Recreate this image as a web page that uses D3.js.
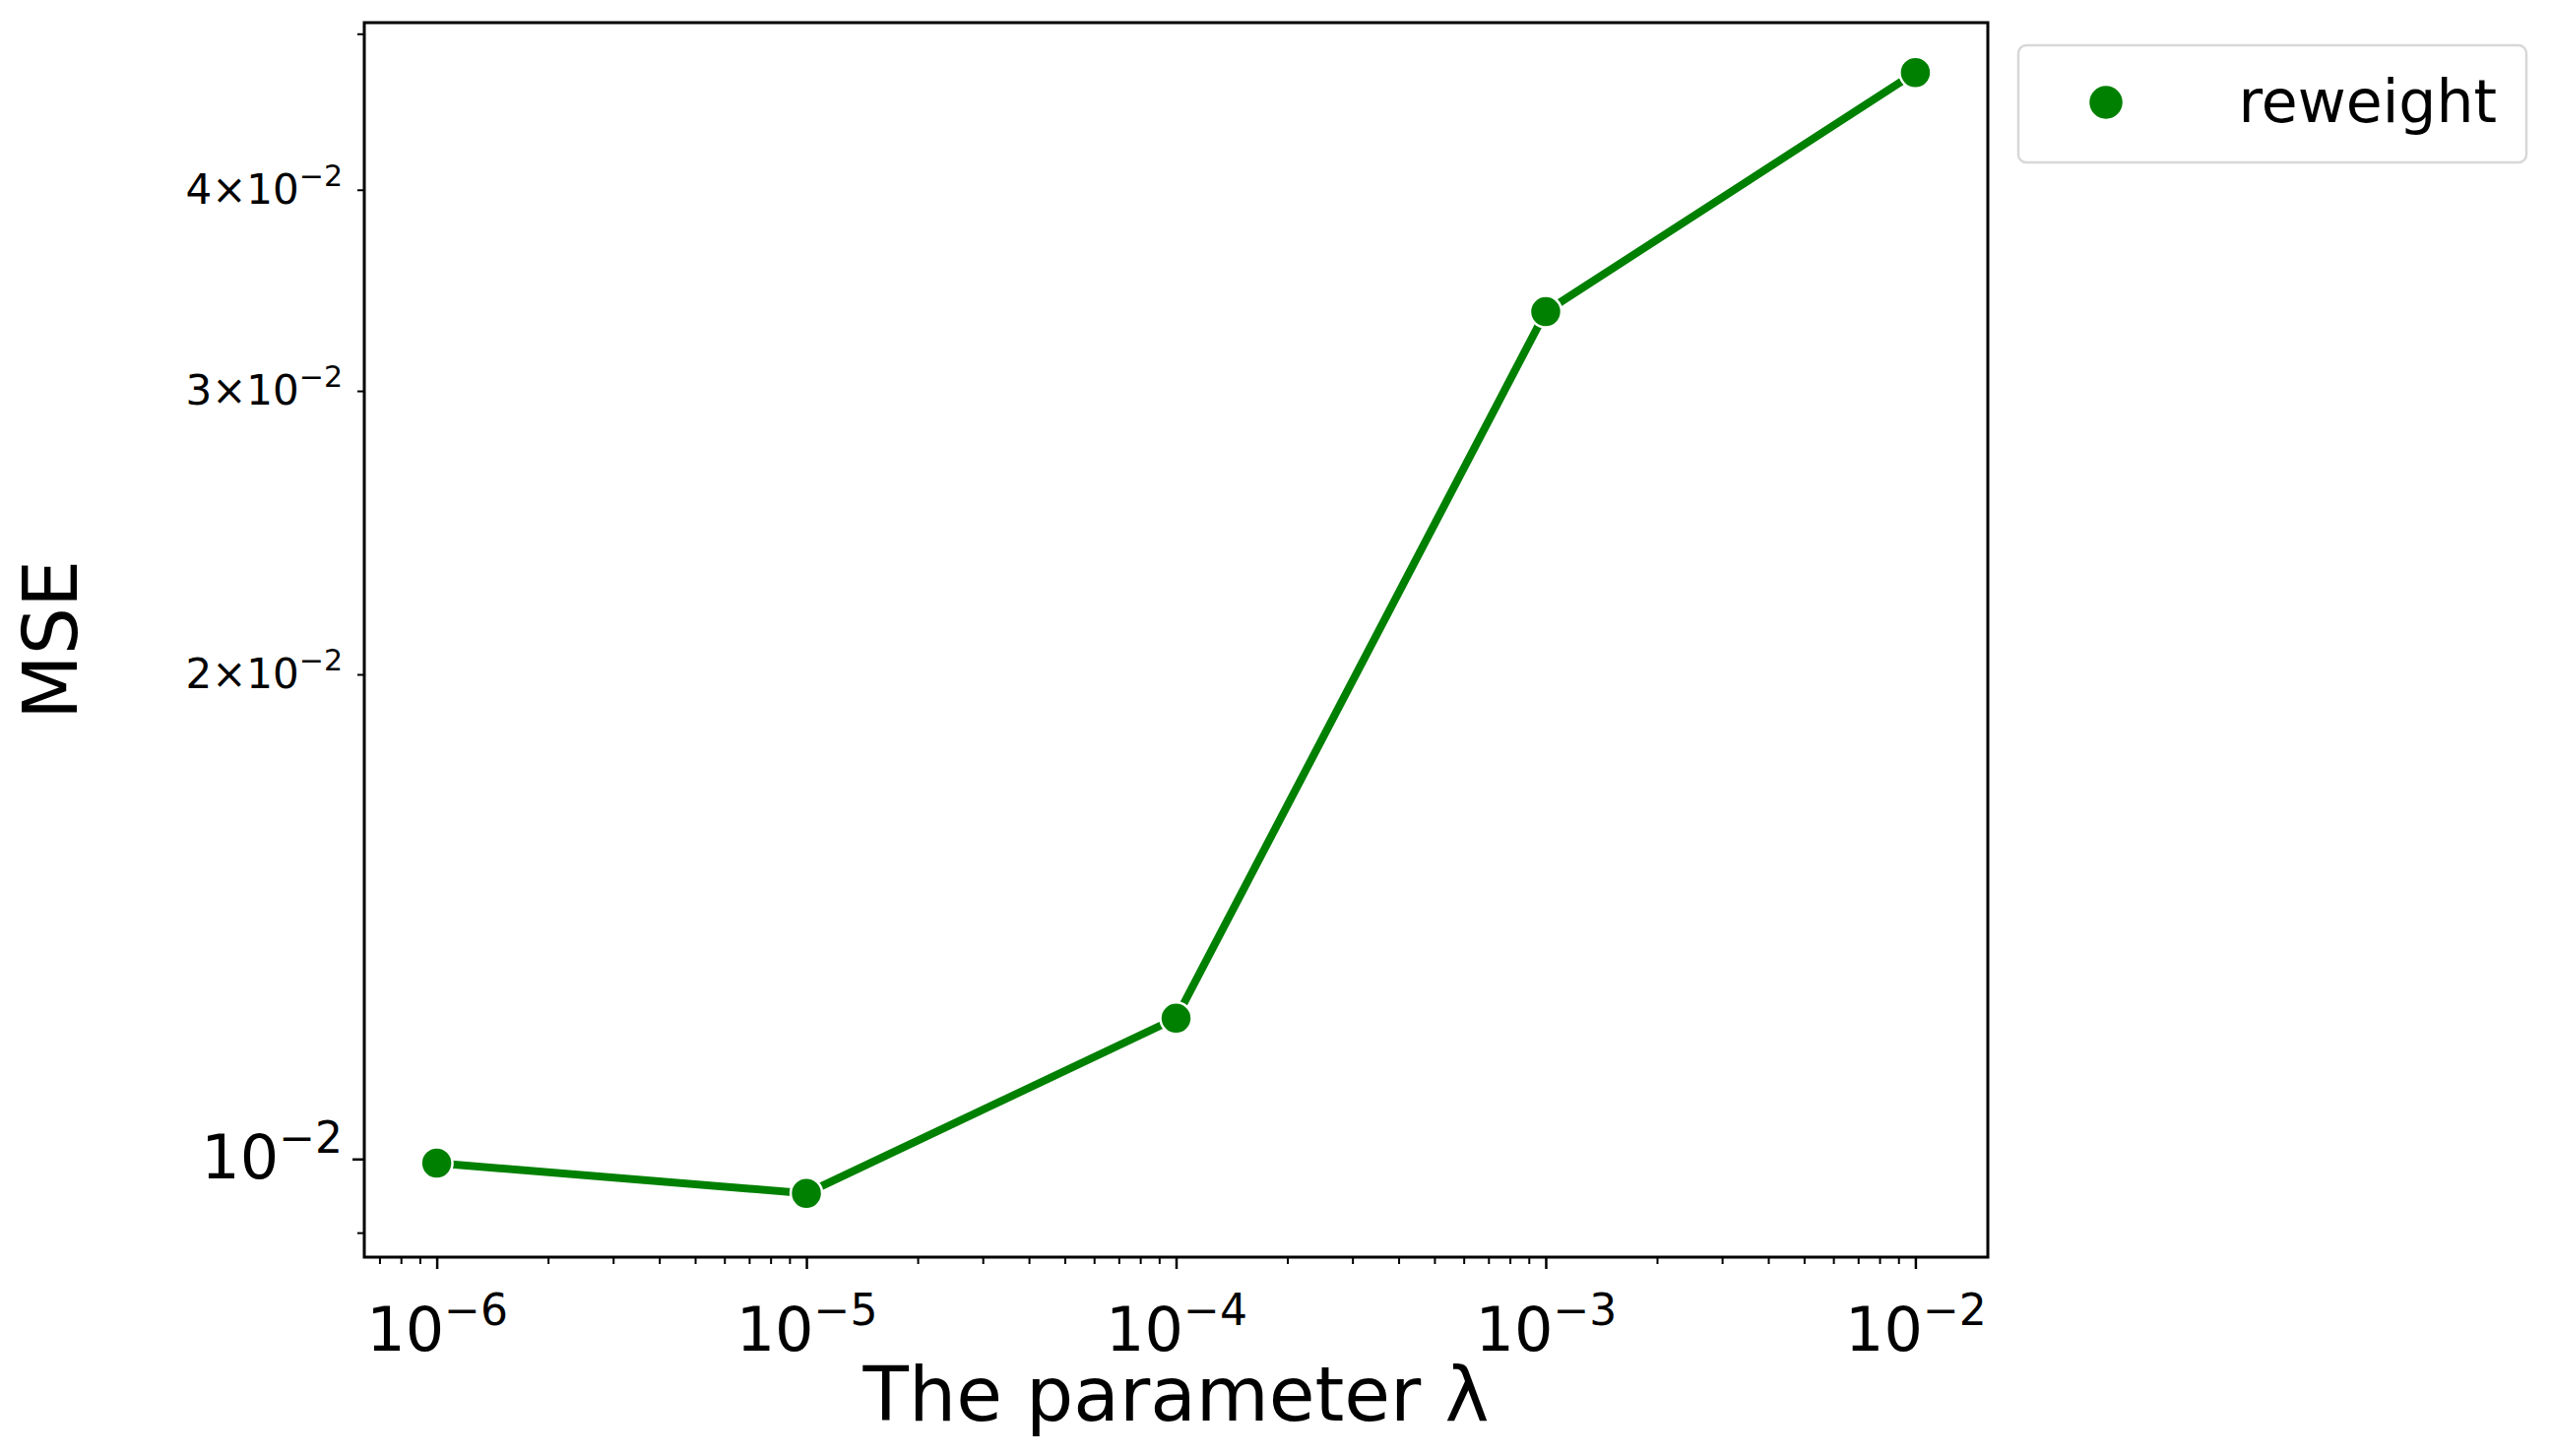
<!DOCTYPE html>
<html><head><meta charset="utf-8">
<script src="https://cdn.jsdelivr.net/npm/d3@7"></script>
<style>body{margin:0;background:#fff}text{font-family:"DejaVu Sans",sans-serif}</style>
</head><body><div id="container"></div>
<script>
const width = 2591, height = 1479;
const lambdas = [1e-6, 1e-5, 1e-4, 1e-3, 1e-2];
const mse = [0.00994, 0.00952, 0.01223, 0.0336, 0.0473];
const xMajor = [-6, -5, -4, -3, -2];
const yLabelled = [[1, 0.01], [2, 0.02], [3, 0.03], [4, 0.04]];
const yMinorOnly = [0.009, 0.05];

const pLeft = 370, pRight = 2019, pTop = 23, pBottom = 1277;
const svg = d3.select("#container").append("svg")
  .attr("width", width).attr("height", height);

const x = d3.scaleLog().domain([Math.pow(10, -6.196), Math.pow(10, -1.804)]).range([pLeft, pRight]);
const y = d3.scaleLog().domain([0.00869, 0.0508]).range([pBottom, pTop]);

// x axis
const xMinor = [];
for (let e = -7; e <= -2; e++) for (let k = 2; k <= 9; k++) {
  const v = k * Math.pow(10, e);
  if (v >= x.domain()[0] && v <= x.domain()[1]) xMinor.push(v);
}
svg.append("g").attr("transform", `translate(0,${pBottom})`)
  .call(d3.axisBottom(x).tickValues(xMinor).tickSize(7).tickFormat(""))
  .call(g => g.select(".domain").remove())
  .selectAll("line").attr("stroke-width", 2);
const xg = svg.append("g").attr("transform", `translate(0,${pBottom})`)
  .call(d3.axisBottom(x).tickValues(xMajor.map(e => Math.pow(10, e))).tickSize(12).tickFormat(""));
xg.select(".domain").remove();
xg.selectAll("line").attr("stroke-width", 2.5);
xg.selectAll(".tick").append("text").attr("fill", "#000").attr("y", 95)
  .attr("text-anchor", "middle").attr("font-size", 62)
  .each(function (d) {
    const t = d3.select(this);
    t.append("tspan").text("10");
    t.append("tspan").attr("dy", -26).attr("font-size", 44).text("\u2212" + Math.round(-Math.log10(d)));
  });

// y axis
const yg = svg.append("g").attr("transform", `translate(${pLeft},0)`)
  .call(d3.axisLeft(y).tickValues(yMinorOnly.concat(yLabelled.map(d => d[1]))).tickSize(7).tickFormat(""));
yg.select(".domain").remove();
yg.selectAll("line").attr("stroke-width", 2);
yg.selectAll(".tick").filter(d => d === 0.01).select("line").attr("x2", -12).attr("stroke-width", 2.5);
yLabelled.forEach(([m, v]) => {
  const t = svg.append("text").attr("x", pLeft - 22).attr("y", y(v) + (m === 1 ? 20 : 14))
    .attr("text-anchor", "end").attr("font-size", m === 1 ? 62 : 42);
  if (m === 1) {
    t.append("tspan").text("10");
    t.append("tspan").attr("dy", -26).attr("font-size", 44).text("\u22122");
  } else {
    t.append("tspan").text(m + "\u00d710");
    t.append("tspan").attr("dy", -18).attr("font-size", 30).text("\u22122");
  }
});

// frame
svg.append("rect").attr("x", pLeft).attr("y", pTop).attr("width", pRight - pLeft).attr("height", pBottom - pTop)
  .attr("fill", "none").attr("stroke", "#000").attr("stroke-width", 3);

// line + markers
const pts = lambdas.map((l, i) => ({ l, v: mse[i] }));
svg.append("path").datum(pts)
  .attr("d", d3.line().x(d => x(d.l)).y(d => y(d.v)))
  .attr("fill", "none").attr("stroke", "green").attr("stroke-width", 8);
svg.selectAll(".dot").data(pts).join("circle").attr("class", "dot")
  .attr("cx", d => x(d.l)).attr("cy", d => y(d.v)).attr("r", 16)
  .attr("fill", "green").attr("stroke", "#fff").attr("stroke-width", 2.5);

// labels
svg.append("text").attr("x", (pLeft + pRight) / 2).attr("y", 1443).attr("text-anchor", "middle")
  .attr("font-size", 76).text("The parameter \u03bb");
svg.append("text").attr("transform", `translate(78,${(pTop + pBottom) / 2}) rotate(-90)`)
  .attr("text-anchor", "middle").attr("font-size", 76).text("MSE");

// legend
const lg = svg.append("g");
lg.append("rect").attr("x", 2050).attr("y", 46).attr("width", 516).attr("height", 119).attr("rx", 8)
  .attr("fill", "#fff").attr("stroke", "#d8d8d8").attr("stroke-width", 2.5);
lg.append("circle").attr("cx", 2139).attr("cy", 104).attr("r", 18).attr("fill", "green").attr("stroke", "#fff").attr("stroke-width", 2.5);
lg.append("text").attr("x", 2536).attr("y", 124).attr("text-anchor", "end").attr("font-size", 60).text("reweight");
</script></body></html>
